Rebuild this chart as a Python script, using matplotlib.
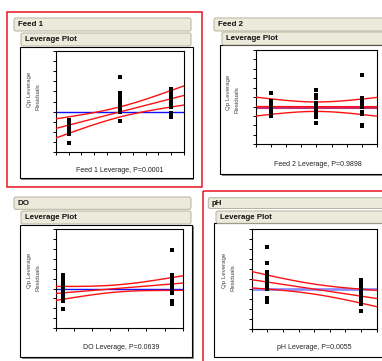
import matplotlib
matplotlib.use("Agg")
import matplotlib.pyplot as plt
import numpy as np
from matplotlib.patches import Rectangle, FancyBboxPatch

plt.rcParams['font.family'] = ['Liberation Sans', 'DejaVu Sans']

W, H = 382, 361

# panel names and x-axis labels
titles = ["Feed 1", "Feed 2", "DO", "pH"]
xlabels = ["Feed 1 Leverage, P=0.0001", "Feed 2 Leverage, P=0.9898",
           "DO Leverage, P=0.0639", "pH Leverage, P=0.0055"]

# leverage residuals (x position, y value)
feed1_x = [1]*9 + [5]*12 + [9]*11
feed1_y = [3.2, 3.0, 2.8, 2.6, 2.4, 2.2, 2.0, 1.8, 0.87,
           7.43, 5.83, 5.6, 5.27, 5.1, 4.93, 4.77, 4.6, 4.43, 4.27, 3.93, 3.1,
           6.27, 6.1, 5.83, 5.6, 5.37, 5.1, 4.77, 4.43, 3.83, 3.6, 3.43]

feed2_x = [1]*9 + [4]*11 + [7]*10
feed2_y = [5.4, 4.6, 4.35, 4.17, 3.92, 3.71, 3.46, 3.2, 3.0,
           5.76, 5.23, 5.05, 4.88, 4.35, 4.06, 3.82, 3.46, 3.11, 2.93, 2.3,
           7.35, 4.88, 4.63, 4.35, 4.17, 4.0, 3.46, 3.2, 2.05, 1.94]

do_x = [0.4]*16 + [6.4]*14
do_y = [5.4, 5.17, 4.93, 4.76, 4.6, 4.43, 4.26, 4.09, 3.89, 3.72, 3.55, 3.38,
        3.14, 2.9, 2.7, 1.89,
        7.87, 5.4, 5.24, 5.0, 4.83, 4.66, 4.49, 4.32, 4.16, 3.99, 3.82, 3.55,
        2.7, 2.47]

ph_x = [1]*16 + [7]*16
ph_y = [8.15, 6.54, 5.7, 5.47, 5.3, 5.13, 4.97, 4.8, 4.63, 4.46, 4.3, 4.13,
        3.96, 3.12, 2.95, 2.72,
        4.87, 4.7, 4.53, 4.36, 4.19, 4.03, 3.86, 3.69, 3.52, 3.36, 3.19, 3.02,
        2.85, 2.68, 2.52, 1.78]

# axis ranges, mean line and fit (intercept, slope, centre, half widths)
xmax = [10, 8, 7, 8]
mean_y = [4.0, 4.0, 4.0, 4.0]
fit_b0 = [2.33, 4.0, 3.5, 4.9]
fit_b1 = [0.327, -0.003, 0.15, -0.235]
fit_xc = [5.0, 4.0, 3.4, 4.0]
hw_centre = [0.5, 0.5, 0.36, 0.5]
hw_edge = [0.95, 1.0, 0.74, 0.82]

xs = [feed1_x, feed2_x, do_x, ph_x]
ys = [feed1_y, feed2_y, do_y, ph_y]

# layout in pixels (left, top, right, bottom)
axes_px = [(55.7, 51, 184, 152), (255.7, 50, 377.3, 144.3),
           (55.7, 229.3, 182.7, 328), (251.7, 228.7, 376.7, 328.7)]
frame_px = [(19.5, 46.5, 192.5, 178), (220, 45, 392, 174),
            (20, 224.5, 192.3, 357), (214.3, 223, 392, 356.5)]
head_px = [(14, 18, 191, 31), (214, 18, 392, 31),
           (14, 197, 191, 209.3), (208.3, 197.7, 392, 208.5)]
lev_px = [(21, 33, 191, 46), (222, 32, 392, 45),
          (21, 211, 191, 224), (216, 211, 392, 223.3)]
xlab_px = [(120, 170), (318, 164.3), (121, 347.7), (314.7, 347.3)]
ylab_px = [(29, 38, 93), (228.3, 237.3, 96), (29.3, 38.3, 274), (224.3, 233.3, 274)]
mean_style = [('#1010ff', 1.0), ('#c0307a', 2.2), ('#1010ff', 1.0), ('#8c8cff', 2.0)]

fig = plt.figure(figsize=(W / 100, H / 100), dpi=100)
bg = fig.add_axes([0, 0, 1, 1], zorder=0)
bg.set_xlim(0, W)
bg.set_ylim(H, 0)
bg.axis('off')

# red selection borders
bg.add_patch(Rectangle((7, 12), 195, 175, fill=False, edgecolor='#e8141c', lw=1.1))
bg.add_patch(Rectangle((202.7, 190.7), 200, 200, fill=False, edgecolor='#e8141c', lw=1.1))

for i in range(4):
    l, t, r, b = frame_px[i]
    bg.add_patch(Rectangle((l + 1.5, t + 1.5), r - l, b - t, facecolor='#8a8a8a', edgecolor='none'))
    bg.add_patch(Rectangle((l, t), r - l, b - t, facecolor='white', edgecolor='black', lw=0.8))
    for (l, t, r, b), txt, dx in [(head_px[i], titles[i], 3.5), (lev_px[i], "Leverage Plot", 4)]:
        bg.add_patch(FancyBboxPatch((l, t), r - l, b - t, boxstyle="round,pad=0,rounding_size=2",
                                    facecolor='#ecebdb', edgecolor='#b4b2a0', lw=0.7))
        bg.text(l + dx, (t + b) / 2 + 0.3, txt, fontsize=5.7, fontweight='bold',
                ha='left', va='center', color='#111111')
    bg.text(xlab_px[i][0], xlab_px[i][1], xlabels[i], fontsize=5.0, ha='center',
            va='center', color='#222222')
    x1, x2, yc = ylab_px[i]
    bg.text(x1, yc - 4, "Qp Leverage", fontsize=4.4, rotation=90, ha='center',
            va='center', color='#444444')
    bg.text(x2, yc + 4, "Residuals", fontsize=4.4, rotation=90, ha='center',
            va='center', color='#444444')

for i in range(4):
    l, t, r, b = axes_px[i]
    ax = fig.add_axes([l / W, 1 - b / H, (r - l) / W, (b - t) / H], zorder=1)
    ax.set_xlim(0, xmax[i])
    ax.set_ylim(0, 10)
    ax.set_xticks(np.arange(0, xmax[i] + 1))
    ax.set_yticks(np.arange(0, 11))
    ax.tick_params(direction='out', length=2.3, width=0.7, labelleft=False,
                   labelbottom=False)
    for s in ax.spines.values():
        s.set_linewidth(0.8)

    xx = np.linspace(0, xmax[i], 200)
    k = np.sqrt(hw_edge[i] ** 2 - hw_centre[i] ** 2) / max(fit_xc[i], xmax[i] - fit_xc[i])
    fit = fit_b0[i] + fit_b1[i] * xx
    hw = np.sqrt(hw_centre[i] ** 2 + (k * (xx - fit_xc[i])) ** 2)
    col, lw = mean_style[i]
    ax.axhline(mean_y[i], color=col, lw=lw, zorder=2)
    for yy in (fit, fit + hw, fit - hw):
        ax.plot(xx, yy, color='#ff1010', lw=1.0, zorder=3)
    ax.plot(xs[i], ys[i], 's', color='black', ms=2.3, mew=0, zorder=4)

fig.savefig("out.png", dpi=100)
